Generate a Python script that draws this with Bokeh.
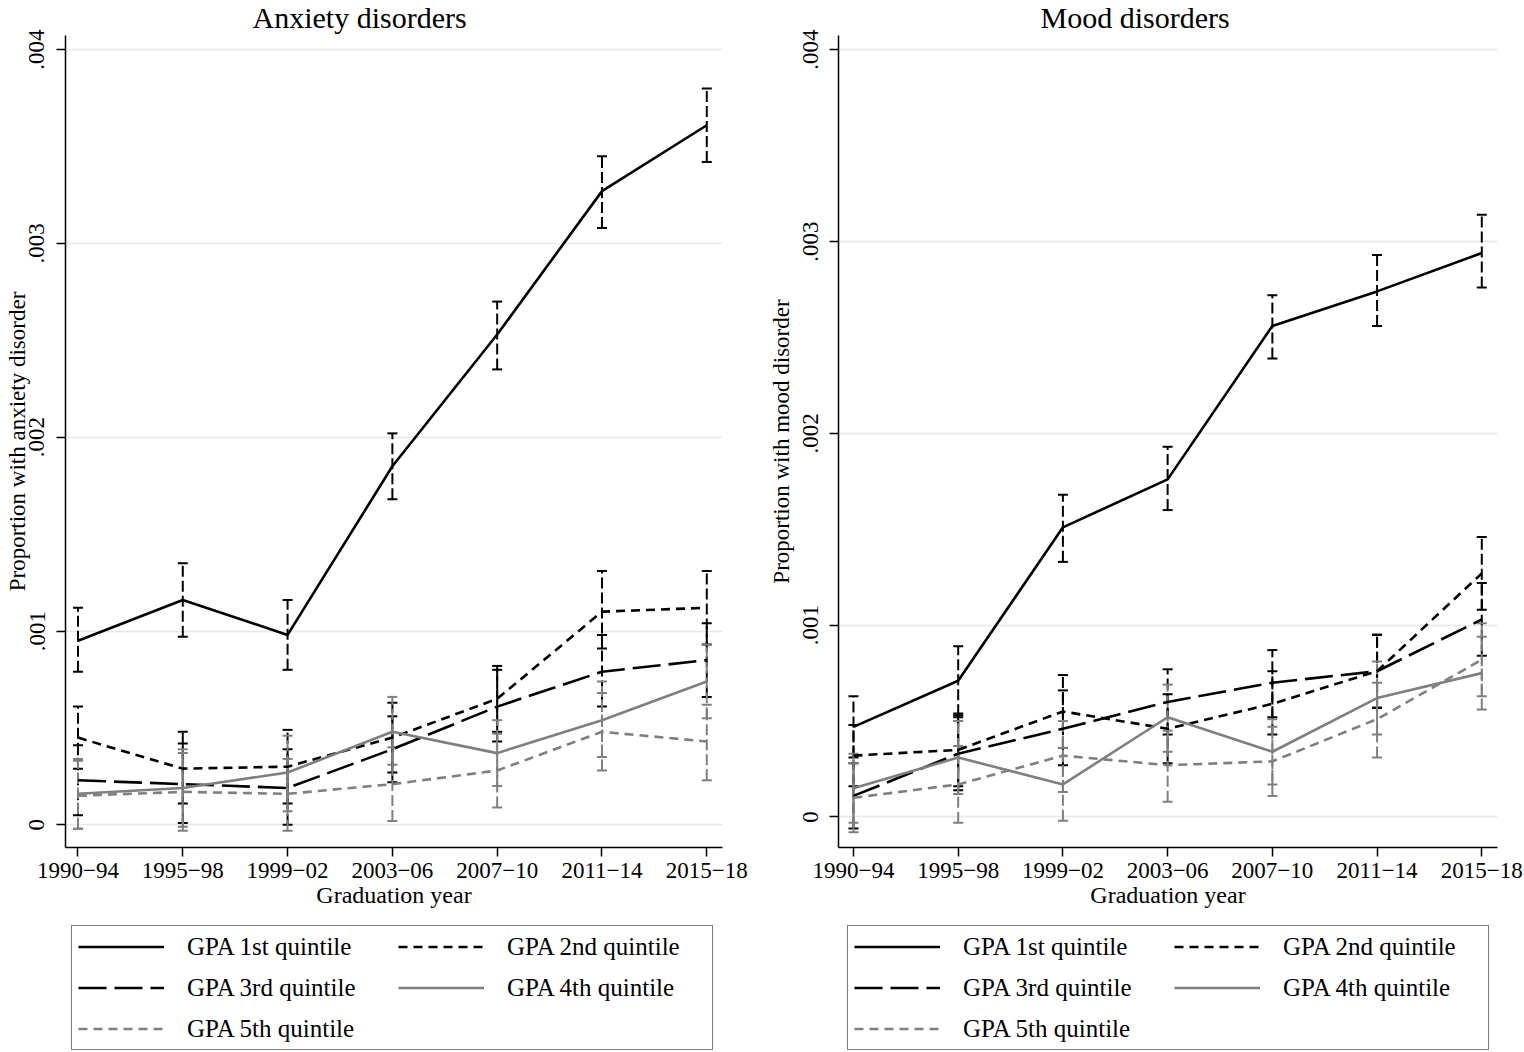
from bokeh.plotting import figure
from bokeh.models import (Range1d, FixedTicker, CustomJSTickFormatter, Legend,
                          LegendItem, Whisker, TeeHead, ColumnDataSource)
from bokeh.layouts import row, column
from bokeh.embed import file_html
from bokeh.resources import INLINE

# ---------------- data ----------------
categories = ["1990\u221294", "1995\u221298", "1999\u221202", "2003\u221206",
              "2007\u221210", "2011\u221214", "2015\u221218"]
series_names = ["GPA 1st quintile", "GPA 2nd quintile", "GPA 3rd quintile",
                "GPA 4th quintile", "GPA 5th quintile"]
y_ticks = [0, 0.001, 0.002, 0.003, 0.004]

# Anxiety disorders
anx_q1 = [0.00095, 0.00116, 0.00098, 0.00185, 0.00253, 0.00327, 0.00361]
anx_q1_lo = [0.00079, 0.00097, 0.00080, 0.00168, 0.00235, 0.00308, 0.00342]
anx_q1_hi = [0.00112, 0.00135, 0.00116, 0.00202, 0.00270, 0.00345, 0.00380]
anx_q2 = [0.00045, 0.00029, 0.00030, 0.00045, 0.00065, 0.00110, 0.00112]
anx_q2_lo = [0.00029, 0.00011, 0.00011, 0.00027, 0.00048, 0.00091, 0.00093]
anx_q2_hi = [0.00061, 0.00048, 0.00049, 0.00063, 0.00082, 0.00131, 0.00131]
anx_q3 = [0.00023, 0.00021, 0.00019, 0.00039, 0.00061, 0.00079, 0.00085]
anx_q3_lo = [0.00005, 0.00001, 0.00000, 0.00022, 0.00043, 0.00061, 0.00066]
anx_q3_hi = [0.00041, 0.00042, 0.00039, 0.00056, 0.00080, 0.00098, 0.00104]
anx_q4 = [0.00016, 0.00019, 0.00027, 0.00048, 0.00037, 0.00054, 0.00074]
anx_q4_lo = [-0.00002, -0.00001, 0.00007, 0.00031, 0.00020, 0.00035, 0.00055]
anx_q4_hi = [0.00034, 0.00039, 0.00046, 0.00066, 0.00054, 0.00074, 0.00093]
anx_q5 = [0.00015, 0.00017, 0.00016, 0.00021, 0.00028, 0.00048, 0.00043]
anx_q5_lo = [-0.00002, -0.00003, -0.00003, 0.00002, 0.00009, 0.00028, 0.00023]
anx_q5_hi = [0.00033, 0.00037, 0.00034, 0.00040, 0.00047, 0.00068, 0.00062]

# Mood disorders
mood_q1 = [0.00047, 0.00071, 0.00151, 0.00176, 0.00256, 0.00274, 0.00294]
mood_q1_lo = [0.00031, 0.00053, 0.00133, 0.00160, 0.00239, 0.00256, 0.00276]
mood_q1_hi = [0.00063, 0.00089, 0.00168, 0.00193, 0.00272, 0.00293, 0.00314]
mood_q2 = [0.00032, 0.00035, 0.00055, 0.00046, 0.00059, 0.00076, 0.00127]
mood_q2_lo = [0.00016, 0.00016, 0.00036, 0.00028, 0.00043, 0.00057, 0.00108]
mood_q2_hi = [0.00048, 0.00054, 0.00074, 0.00064, 0.00076, 0.00095, 0.00146]
mood_q3 = [0.00011, 0.00033, 0.00046, 0.00060, 0.00070, 0.00076, 0.00103]
mood_q3_lo = [-0.00006, 0.00014, 0.00027, 0.00043, 0.00052, 0.00057, 0.00084]
mood_q3_hi = [0.00028, 0.00052, 0.00066, 0.00077, 0.00087, 0.00095, 0.00122]
mood_q4 = [0.00015, 0.00031, 0.00017, 0.00052, 0.00034, 0.00062, 0.00075]
mood_q4_lo = [-0.00003, 0.00012, -0.00002, 0.00034, 0.00017, 0.00043, 0.00056]
mood_q4_hi = [0.00033, 0.00050, 0.00036, 0.00069, 0.00051, 0.00081, 0.00094]
mood_q5 = [0.00010, 0.00017, 0.00032, 0.00027, 0.00029, 0.00051, 0.00082]
mood_q5_lo = [-0.00008, -0.00003, 0.00013, 0.00008, 0.00011, 0.00031, 0.00063]
mood_q5_hi = [0.00028, 0.00037, 0.00050, 0.00045, 0.00047, 0.00070, 0.00101]

# ---------------- styles ----------------
FONT = "Liberation Serif"
GRAY = "#7f7f7f"
line_styles = [("black", "solid"), ("black", "9 6"), ("black", "28 8"),
               (GRAY, "solid"), (GRAY, "9 6")]
LINE_W = 2.6

x_pos = list(range(len(categories)))

MAIN_H = 35 + 812 + 72
LEG_H = 1052 - MAIN_H


def make_panel(title, ylabel, means, los, his, x_start, y_start, y_end,
               border_left, frame_w, border_right, title_offset,
               ylab_standoff, yaxis_label_standoff):
    p = figure(frame_width=frame_w, frame_height=812,
               min_border_left=border_left, min_border_right=border_right,
               min_border_top=35, min_border_bottom=72,
               x_range=Range1d(x_start, 6.15), y_range=Range1d(y_start, y_end),
               output_backend="svg", toolbar_location=None,
               background_fill_color="white", border_fill_color="white",
               outline_line_color=None)
    p.title.text = title
    p.title.text_font = FONT
    p.title.text_font_size = "30px"
    p.title.text_font_style = "normal"
    p.title.text_color = "black"
    p.title.align = "left"
    p.title.offset = title_offset
    p.title.standoff = 0
    p.title.vertical_align = "top"

    # axes
    p.xaxis.ticker = FixedTicker(ticks=x_pos)
    p.xaxis.major_label_overrides = {i: c for i, c in enumerate(categories)}
    p.yaxis.ticker = FixedTicker(ticks=y_ticks)
    p.yaxis.formatter = CustomJSTickFormatter(
        code="if (tick == 0) { return '0'; } return tick.toFixed(3).replace(/^0/, '');")
    p.yaxis.major_label_orientation = "vertical"
    p.xaxis.axis_label = "Graduation year"
    p.yaxis.axis_label = ylabel
    for ax in (p.xaxis, p.yaxis):
        ax.axis_line_color = "black"
        ax.axis_line_width = 1.5
        ax.major_tick_line_color = "black"
        ax.major_tick_line_width = 1.5
        ax.major_tick_in = 0
        ax.major_tick_out = 9
        ax.minor_tick_line_color = None
        ax.major_label_text_font = FONT
        ax.major_label_text_font_size = "23px"
        ax.major_label_text_color = "black"
        ax.axis_label_text_font = FONT
        ax.axis_label_text_font_size = "24px"
        ax.axis_label_text_font_style = "normal"
        ax.axis_label_text_color = "black"
    p.yaxis.axis_label_text_font_size = "23px"
    p.xaxis.major_label_standoff = 6
    p.xaxis.axis_label_standoff = 1
    p.yaxis.major_label_standoff = ylab_standoff
    p.yaxis.axis_label_standoff = yaxis_label_standoff

    p.xgrid.grid_line_color = None
    p.ygrid.grid_line_color = "#e8e8e8"
    p.ygrid.grid_line_width = 1.5

    for m, lo, hi, (color, dash) in zip(means, los, his, line_styles):
        src = ColumnDataSource(dict(x=x_pos, y=m, lo=lo, hi=hi))
        w = Whisker(source=src, base="x", lower="lo", upper="hi",
                    line_color=color, line_width=2, line_dash="11 4",
                    upper_head=TeeHead(size=10, line_color=color, line_width=2),
                    lower_head=TeeHead(size=10, line_color=color, line_width=2))
        p.add_layout(w)
        p.line("x", "y", source=src, line_color=color, line_width=LINE_W,
               line_dash=dash, line_join="round")
    return p


def make_legend(width, box_x, means):
    # legend-only strip below a panel; its lines are the same series, kept
    # outside the visible y range so only the legend keys show
    lf = figure(width=width, height=LEG_H, x_range=Range1d(0, 6),
                y_range=Range1d(1.0, 2.0), x_axis_type=None, y_axis_type=None,
                min_border=0, output_backend="svg", toolbar_location=None,
                outline_line_color=None, background_fill_color="white",
                border_fill_color="white")
    lf.xgrid.visible = False
    lf.ygrid.visible = False
    items = []
    for name, m, (color, dash) in zip(series_names, means, line_styles):
        r = lf.line(x=x_pos, y=m, line_color=color, line_width=LINE_W,
                    line_dash=dash)
        items.append(LegendItem(label=name, renderers=[r]))
    legend = Legend(items=items, orientation="horizontal", ncols=2,
                    location=(box_x, 2), margin=0,
                    glyph_width=86, glyph_height=29, label_width=199,
                    label_height=29, label_standoff=23, spacing=12, padding=6,
                    label_text_font=FONT, label_text_font_size="25px",
                    label_text_color="black", border_line_color="black",
                    border_line_width=1.5, background_fill_color="white",
                    background_fill_alpha=1.0)
    lf.add_layout(legend, "center")
    return lf


p1 = make_panel("Anxiety disorders", "Proportion with anxiety disorder",
                [anx_q1, anx_q2, anx_q3, anx_q4, anx_q5],
                [anx_q1_lo, anx_q2_lo, anx_q3_lo, anx_q4_lo, anx_q5_lo],
                [anx_q1_hi, anx_q2_hi, anx_q3_hi, anx_q4_hi, anx_q5_hi],
                -0.119, -0.000117, 0.004073, 65, 657, 42, 187, 12, -3)
p2 = make_panel("Mood disorders", "Proportion with mood disorder",
                [mood_q1, mood_q2, mood_q3, mood_q4, mood_q5],
                [mood_q1_lo, mood_q2_lo, mood_q3_lo, mood_q4_lo, mood_q5_lo],
                [mood_q1_hi, mood_q2_hi, mood_q3_hi, mood_q4_hi, mood_q5_hi],
                -0.143, -0.000159, 0.004074, 74, 659, 27, 202, 11, 7)

leg1 = make_legend(764, 6, [anx_q1, anx_q2, anx_q3, anx_q4, anx_q5])
leg2 = make_legend(760, 9, [mood_q1, mood_q2, mood_q3, mood_q4, mood_q5])

layout = row(column(p1, leg1), column(p2, leg2))
open("out.html", "w").write(file_html(layout, INLINE))
